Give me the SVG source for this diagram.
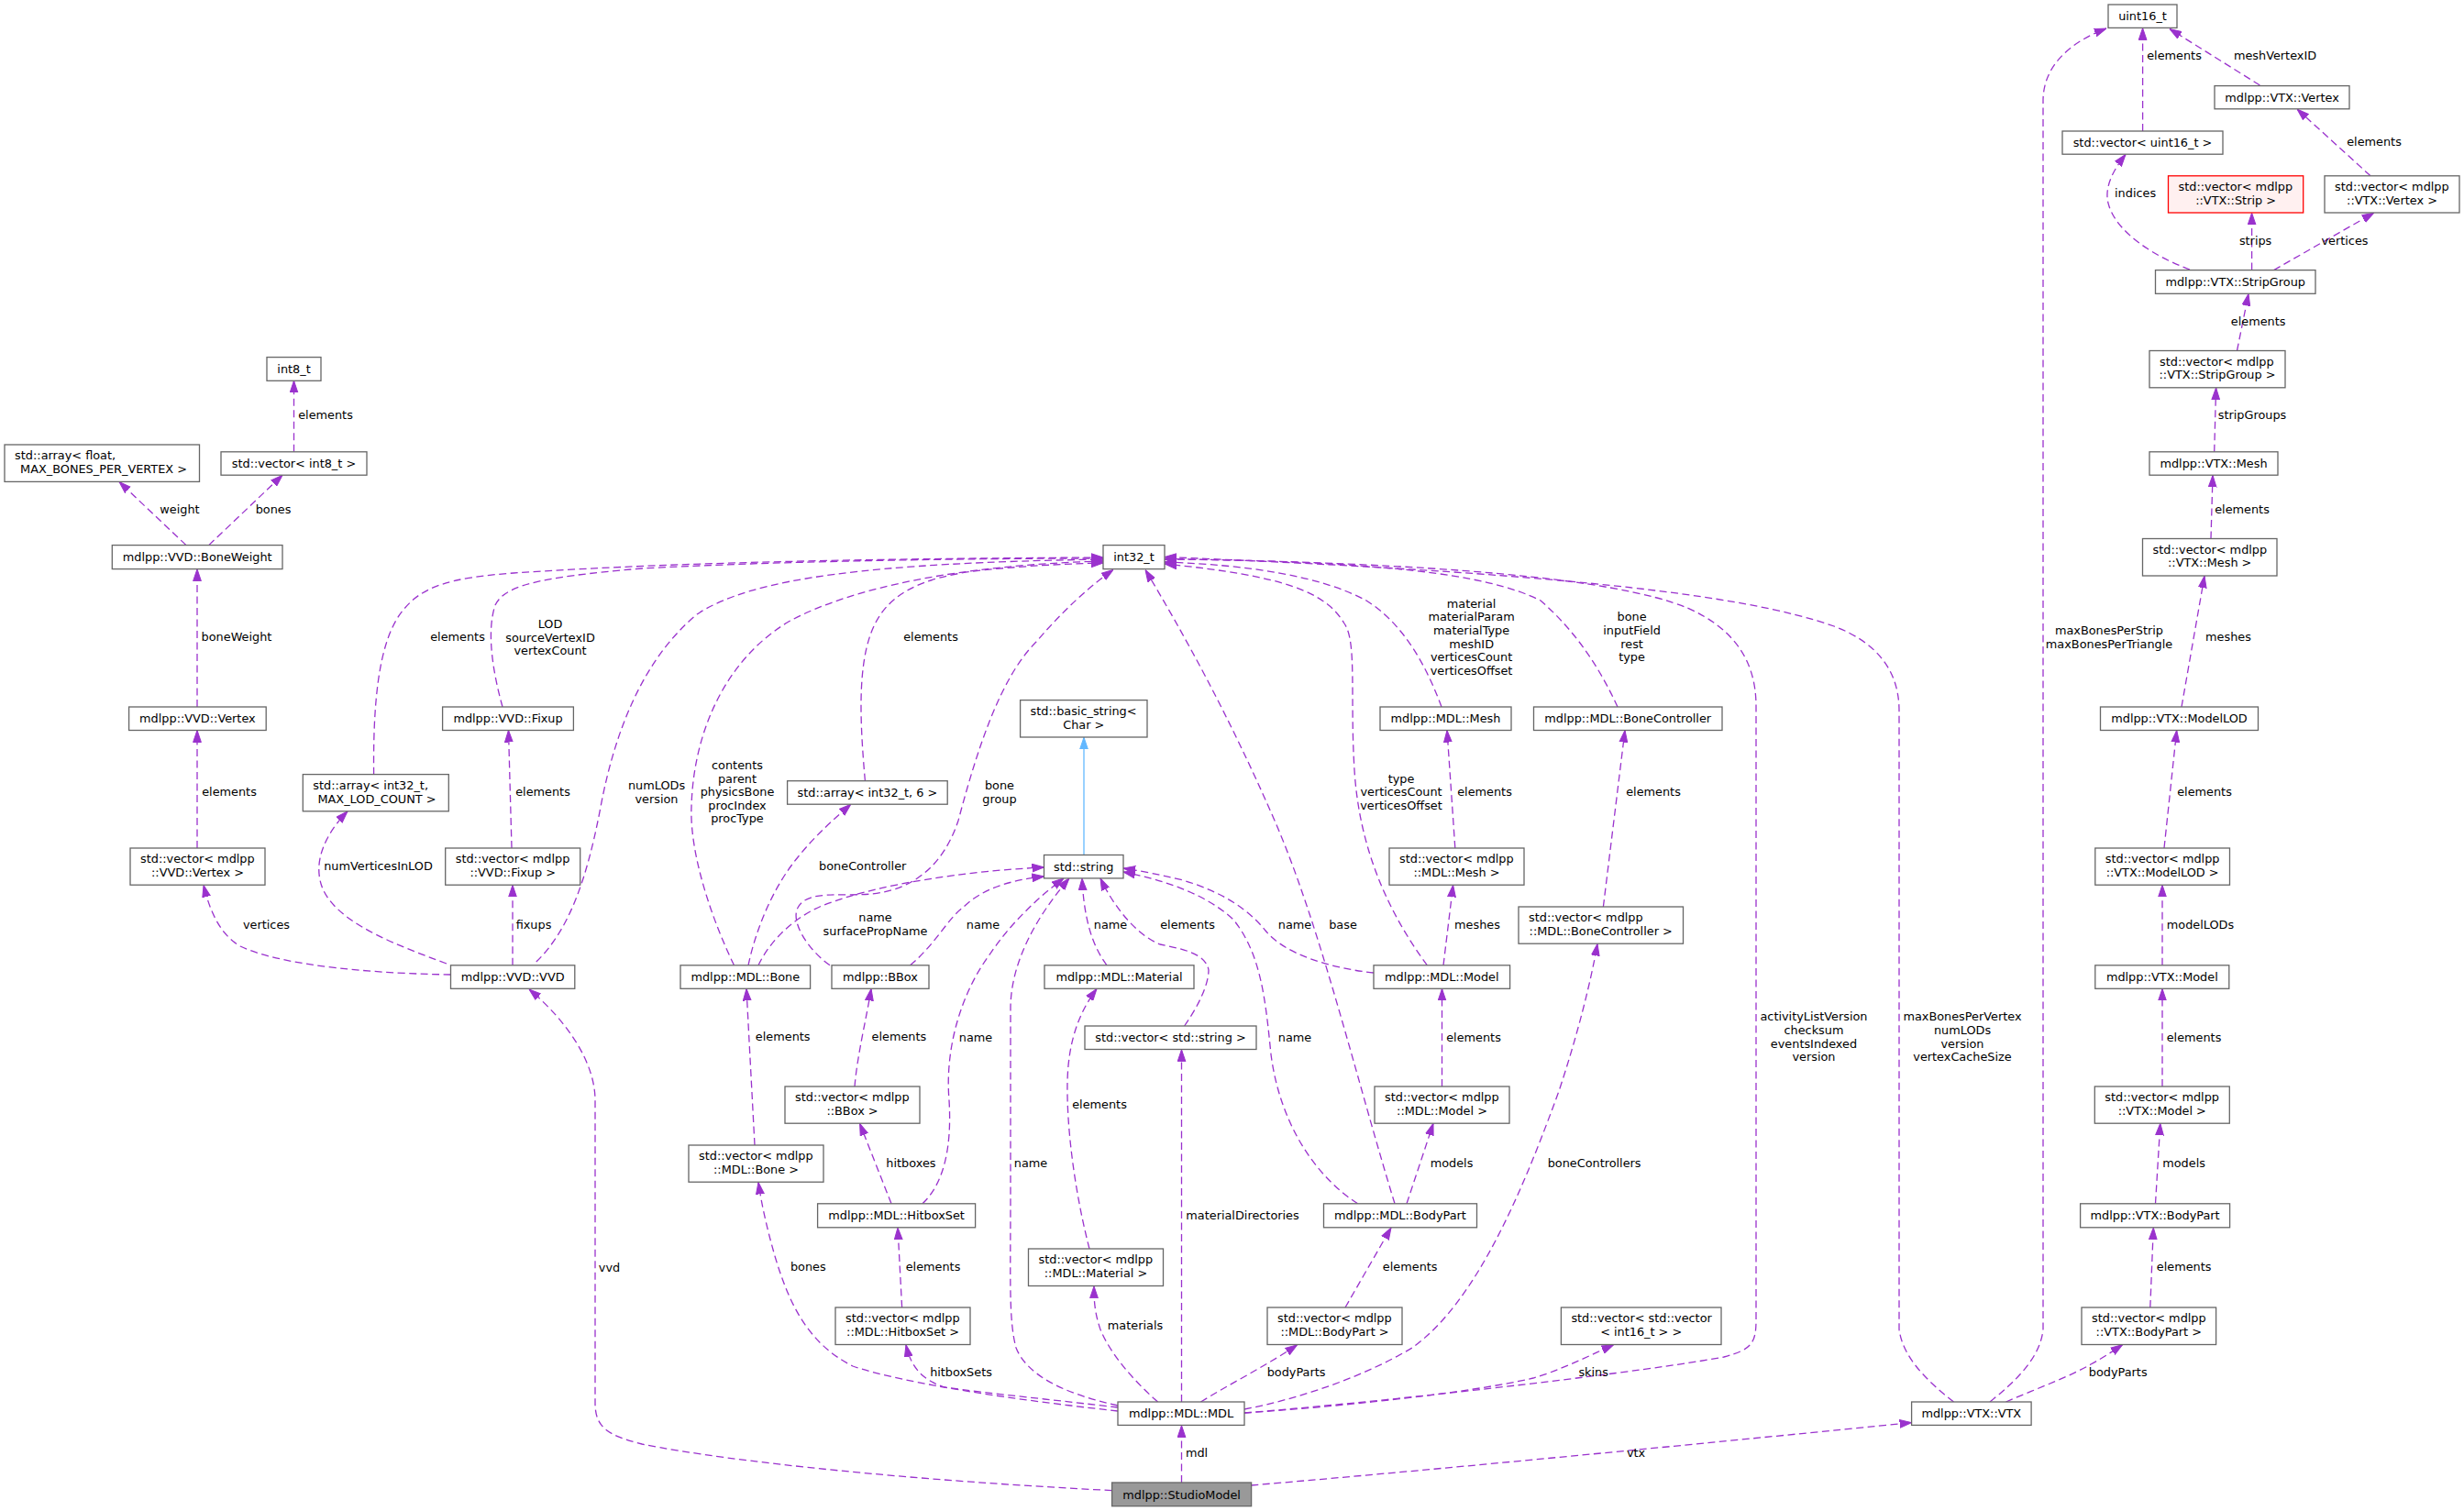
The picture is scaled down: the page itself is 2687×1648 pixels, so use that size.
<svg xmlns="http://www.w3.org/2000/svg" width="2687" height="1648" viewBox="0 0 2687 1648">
<defs>
<style>
text{font-family:"DejaVu Sans","Liberation Sans",sans-serif;font-size:12.85px;fill:#000}
.n rect{fill:#fff;stroke:#666;stroke-width:1.3}
.n text{text-anchor:middle}
.n text.l{text-anchor:start}
.e path{fill:none;stroke:#9a32cd;stroke-width:1.3;stroke-dasharray:8,4.5;marker-end:url(#ah)}
.e path.inh{stroke:#63b8ff;stroke-dasharray:none;marker-end:url(#ahb)}
.lb text{text-anchor:middle}
</style>
<marker id="ah" viewBox="0 0 13 10" refX="13" refY="5" markerWidth="13" markerHeight="10" orient="auto" markerUnits="userSpaceOnUse"><path d="M0,0.6 L13,5 L0,9.4 Z" fill="#9a32cd" stroke="#9a32cd" stroke-width="1"/></marker>
<marker id="ahb" viewBox="0 0 13 10" refX="13" refY="5" markerWidth="13" markerHeight="10" orient="auto" markerUnits="userSpaceOnUse"><path d="M0,0.6 L13,5 L0,9.4 Z" fill="#63b8ff" stroke="#63b8ff" stroke-width="1"/></marker>
</defs>
<rect x="0" y="0" width="2687" height="1648" fill="#fff"/>

<g id="edges" class="e">
<path d="M320.5,492.8 L320.5,415.3"/>
<path d="M203,594.6 L130,525.5"/>
<path d="M227.7,594.6 L308,518.2"/>
<path d="M215,771 L215,620.7"/>
<path d="M215,925 L215,796.5"/>
<path d="M491.5,1063 C420,1062 310,1055 262,1032 C238,1018 228,990 222,965.4"/>
<path d="M487,1051 C430,1030 380,1010 358,980 C340,955 345,920 379,884.8"/>
<path d="M559,1052.8 L559,965.3"/>
<path d="M558,925 L554.5,796.5"/>
<path d="M548,771 C538,735 530,690 540,660 C550,640 580,630 700,620 C850,612 1050,609 1203,609"/>
<path d="M407.6,844.6 C407,780 410,700 440,665 C460,640 490,630 560,625 C750,612 1000,609 1203,608"/>
<path d="M584.8,1049 C620,1015 640,960 655,880 C670,800 700,720 760,670 C820,630 950,614 1203,610"/>
<path d="M800.5,1052.8 C775,1000 752,930 754,880 C756,800 790,720 860,678 C930,640 1050,616 1203,612"/>
<path d="M943.4,851.7 C938,790 935,730 950,690 C965,650 1000,630 1070,622 C1120,617 1160,615 1203,614"/>
<path d="M905,1052.8 C880,1035 862,1005 870,990 C880,970 920,978 950,975 C1000,970 1030,940 1045,895 C1065,820 1090,740 1130,700 C1160,665 1190,638 1214,621.5"/>
<path d="M816,1052.8 C825,1010 845,965 870,935 C890,910 910,893 927.8,877.3"/>
<path d="M827,1052.8 C840,1025 870,995 910,983 C960,965 1050,950 1138.5,946"/>
<path d="M992.5,1052.8 C1020,1030 1035,1000 1050,990 C1070,970 1100,960 1138.5,956"/>
<path d="M1006,1312.8 C1030,1290 1038,1250 1035,1200 C1030,1140 1050,1080 1080,1040 C1100,1010 1130,980 1160,958"/>
<path d="M1219,1533 C1160,1520 1120,1500 1108,1470 C1100,1440 1102,1400 1102,1300 L1102,1100 C1102,1050 1130,1000 1166,958"/>
<path d="M1207,1052.8 C1190,1030 1182,1000 1180,958"/>
<path d="M1291.6,1119 C1305,1100 1318,1075 1318,1058 C1315,1040 1290,1035 1265,1030 C1240,1020 1215,990 1200,958"/>
<path class="inh" d="M1182,932.5 L1182,804.2"/>
<path d="M1521,1312.8 C1480,1180 1440,1010 1390,895 C1340,780 1290,690 1249,621.5"/>
<path d="M1480.6,1312.8 C1430,1280 1395,1220 1386,1150 C1380,1090 1375,1040 1345,1003 C1315,975 1270,960 1225,951"/>
<path d="M1498,1061 C1450,1056 1400,1040 1380,1015 C1360,990 1330,972 1290,960 C1265,954 1245,950 1225,947"/>
<path d="M1572,771 C1555,725 1530,680 1490,655 C1440,628 1360,616 1270,613"/>
<path d="M1764,771 C1745,730 1720,690 1680,655 C1620,625 1500,612 1270,610"/>
<path d="M1556.4,1052.8 C1510,990 1482,920 1477,840 C1472,760 1480,700 1466,680 C1445,645 1400,628 1270,615"/>
<path d="M1357,1541 C1550,1525 1800,1495 1880,1480 C1910,1472 1915,1465 1915,1440 L1915,770 C1915,720 1890,685 1840,663 C1760,630 1560,614 1270,609.5"/>
<path d="M2130.5,1529 C2100,1505 2075,1480 2071,1450 L2071,775 C2071,730 2045,700 2000,683 C1900,648 1700,625 1270,607.5"/>
<path d="M2170,1529 C2200,1505 2225,1480 2228,1450 L2228,110 C2228,70 2260,45 2297,31"/>
<path d="M2336.6,143 L2336.6,30.6"/>
<path d="M2464.4,93 L2366,31.5"/>
<path d="M2585,191.8 L2505,119"/>
<path d="M2388,294 C2350,280 2310,255 2300,225 C2293,205 2305,185 2318,168.5"/>
<path d="M2455.6,294.6 L2455.6,232.2"/>
<path d="M2479.6,294.6 L2588.7,232.2"/>
<path d="M2439.5,382.5 L2452,320.5"/>
<path d="M2414.7,492.8 L2416.6,423"/>
<path d="M2411,587.5 L2413,518.4"/>
<path d="M2379,771 L2404,628.2"/>
<path d="M2360,925 L2373.7,796.6"/>
<path d="M2358,1052.8 L2358,965.3"/>
<path d="M2358,1185 L2358,1078.4"/>
<path d="M2350.5,1312.8 L2355.8,1225.3"/>
<path d="M2344.8,1426 L2348.3,1339"/>
<path d="M2187.5,1529 C2220,1515 2260,1500 2280,1488 C2295,1480 2305,1473 2314.6,1466.6"/>
<path d="M1586.8,925 L1578,796.6"/>
<path d="M1574,1052.8 L1584.6,965.3"/>
<path d="M1748.4,989 L1772,796.6"/>
<path d="M1357,1537 C1420,1525 1490,1500 1540,1470 C1610,1420 1660,1300 1700,1190 C1720,1130 1735,1070 1742,1029.4"/>
<path d="M1572.5,1185 L1572.5,1078.4"/>
<path d="M1534,1312.8 L1563,1225.3"/>
<path d="M1467,1426 L1517,1339"/>
<path d="M1309.5,1529 C1340,1510 1380,1490 1414.6,1466.8"/>
<path d="M1357,1541 C1450,1535 1600,1520 1672,1503 C1700,1495 1730,1480 1759.6,1466.8"/>
<path d="M1288.5,1529 L1288.5,1144.8"/>
<path d="M1262.6,1529 C1235,1505 1210,1475 1200,1450 C1193,1430 1193,1415 1193,1402.8"/>
<path d="M1188,1362 C1172,1300 1163,1230 1164,1180 C1165,1130 1180,1100 1196,1078.4"/>
<path d="M1219,1535 C1160,1528 1080,1520 1030,1513 C1005,1505 993,1490 988,1466.8"/>
<path d="M983.6,1426 L979,1339"/>
<path d="M972,1312.8 L937.6,1225.4"/>
<path d="M932,1185 C935,1150 945,1110 950,1078.4"/>
<path d="M823,1249 L814,1078.4"/>
<path d="M1219,1539 C1110,1527 990,1510 930,1490 C880,1465 860,1420 845,1370 C835,1335 830,1310 827,1289.4"/>
<path d="M1288.5,1617 L1288.5,1554.7"/>
<path d="M1212.6,1625.6 C1000,1615 800,1595 700,1575 C660,1565 649,1555 649,1530 L649,1200 C649,1160 620,1115 577,1079"/>
<path d="M1364.4,1620 C1600,1600 1900,1570 2084.6,1551.6"/>
</g>

<g id="edge-labels" class="lb">
<text x="355" y="457">elements</text>
<text x="196" y="559.5">weight</text>
<text x="298" y="559.5">bones</text>
<text x="258" y="699">boneWeight</text>
<text x="250" y="867.5">elements</text>
<text x="499" y="699">elements</text>
<text x="600" y="685">LOD</text>
<text x="600" y="699.5">sourceVertexID</text>
<text x="600" y="714">vertexCount</text>
<text x="592" y="867.5">elements</text>
<text x="412.5" y="948.5">numVerticesInLOD</text>
<text x="290.5" y="1012.5">vertices</text>
<text x="582" y="1012.5">fixups</text>
<text x="716" y="861">numLODs</text>
<text x="716" y="875.5">version</text>
<text x="804" y="839">contents</text>
<text x="804" y="853.5">parent</text>
<text x="804" y="868">physicsBone</text>
<text x="804" y="882.5">procIndex</text>
<text x="804" y="897">procType</text>
<text x="1015" y="699">elements</text>
<text x="1090" y="861">bone</text>
<text x="1090" y="875.5">group</text>
<text x="940.7" y="948.5">boneController</text>
<text x="954.5" y="1005">name</text>
<text x="954.5" y="1019.8">surfacePropName</text>
<text x="1072" y="1012.5">name</text>
<text x="1211" y="1012.5">name</text>
<text x="1295" y="1012.5">elements</text>
<text x="1604.6" y="662.7">material</text>
<text x="1604.6" y="677.4">materialParam</text>
<text x="1604.6" y="692">materialType</text>
<text x="1604.6" y="706.6">meshID</text>
<text x="1604.6" y="721.3">verticesCount</text>
<text x="1604.6" y="735.9">verticesOffset</text>
<text x="1779.6" y="677.4">bone</text>
<text x="1779.6" y="692">inputField</text>
<text x="1779.6" y="706.6">rest</text>
<text x="1779.6" y="721.3">type</text>
<text x="1528" y="853.5">type</text>
<text x="1528" y="868">verticesCount</text>
<text x="1528" y="882.5">verticesOffset</text>
<text x="1619" y="868">elements</text>
<text x="1803" y="868">elements</text>
<text x="1412" y="1012.5">name</text>
<text x="1464.5" y="1012.5">base</text>
<text x="1611" y="1012.5">meshes</text>
<text x="2445" y="560">elements</text>
<text x="2300" y="692">maxBonesPerStrip</text>
<text x="2300" y="707">maxBonesPerTriangle</text>
<text x="2430" y="699">meshes</text>
<text x="2404" y="868">elements</text>
<text x="2399.5" y="1012.5">modelLODs</text>
<text x="2371" y="65">elements</text>
<text x="2481" y="65">meshVertexID</text>
<text x="2589" y="158.5">elements</text>
<text x="2328.6" y="215">indices</text>
<text x="2459.6" y="267">strips</text>
<text x="2557" y="267">vertices</text>
<text x="2462.6" y="355">elements</text>
<text x="2456" y="457">stripGroups</text>
<text x="664.5" y="1386.5">vvd</text>
<text x="853.7" y="1135">elements</text>
<text x="980.4" y="1135">elements</text>
<text x="1064" y="1135.5">name</text>
<text x="1124" y="1273">name</text>
<text x="1199" y="1209">elements</text>
<text x="993.4" y="1273">hitboxes</text>
<text x="1355" y="1329.5">materialDirectories</text>
<text x="881.3" y="1386">bones</text>
<text x="1017.5" y="1386">elements</text>
<text x="1238" y="1450">materials</text>
<text x="1048" y="1501">hitboxSets</text>
<text x="1305" y="1589">mdl</text>
<text x="1412" y="1135.5">name</text>
<text x="1607" y="1135.5">elements</text>
<text x="1978" y="1113">activityListVersion</text>
<text x="1978" y="1128">checksum</text>
<text x="1978" y="1142.5">eventsIndexed</text>
<text x="1978" y="1157">version</text>
<text x="1583" y="1273">models</text>
<text x="1738.6" y="1273">boneControllers</text>
<text x="1537.7" y="1386">elements</text>
<text x="1413.6" y="1501">bodyParts</text>
<text x="1737.7" y="1501">skins</text>
<text x="1784" y="1589">vtx</text>
<text x="2140" y="1113">maxBonesPerVertex</text>
<text x="2140" y="1128">numLODs</text>
<text x="2140" y="1142.5">version</text>
<text x="2140" y="1157">vertexCacheSize</text>
<text x="2392.5" y="1135.5">elements</text>
<text x="2381.6" y="1273">models</text>
<text x="2381.6" y="1386">elements</text>
<text x="2309.7" y="1501">bodyParts</text>
</g>

<g id="n_int8" class="n"><rect x="291" y="389.6" width="59" height="25.7"/><text x="320.5" y="407">int8_t</text></g>
<g id="n_arrfloat" class="n"><rect x="5" y="485" width="212.5" height="40.4"/><text class="l" x="16.1" y="501.2">std::array&lt; float,</text><text x="113" y="515.9">MAX_BONES_PER_VERTEX &gt;</text></g>
<g id="n_vecint8" class="n"><rect x="241" y="492.8" width="159" height="25.4"/><text x="320.5" y="510.1">std::vector&lt; int8_t &gt;</text></g>
<g id="n_boneweight" class="n"><rect x="122.3" y="594.6" width="185.7" height="26"/><text x="215.2" y="612.2">mdlpp::VVD::BoneWeight</text></g>
<g id="n_vvdvertex" class="n"><rect x="140.6" y="771" width="149.6" height="25.5"/><text x="215.4" y="788.4">mdlpp::VVD::Vertex</text></g>
<g id="n_vecvvdvertex" class="n"><rect x="142" y="925" width="147" height="40.2"/><text class="l" x="153" y="941.2">std::vector&lt; mdlpp</text><text x="215.5" y="955.9">::VVD::Vertex &gt;</text></g>
<g id="n_arrlod" class="n"><rect x="330.3" y="844.6" width="159" height="40.2"/><text class="l" x="341.3" y="860.8">std::array&lt; int32_t,</text><text x="411" y="875.5">MAX_LOD_COUNT &gt;</text></g>
<g id="n_fixup" class="n"><rect x="482.6" y="771" width="142.8" height="25.5"/><text x="554" y="788.4">mdlpp::VVD::Fixup</text></g>
<g id="n_vecfixup" class="n"><rect x="485.7" y="925" width="147" height="40.2"/><text class="l" x="496.7" y="941.2">std::vector&lt; mdlpp</text><text x="559.2" y="955.9">::VVD::Fixup &gt;</text></g>
<g id="n_vvd" class="n"><rect x="491.5" y="1052.8" width="135.3" height="25.5"/><text x="559.2" y="1070.2">mdlpp::VVD::VVD</text></g>
<g id="n_int32" class="n"><rect x="1203" y="594.6" width="67" height="26"/><text x="1236.5" y="612.2">int32_t</text></g>
<g id="n_arr6" class="n"><rect x="858.6" y="851.7" width="174.6" height="25.5"/><text x="945.9" y="869.1">std::array&lt; int32_t, 6 &gt;</text></g>
<g id="n_basicstring" class="n"><rect x="1112.6" y="763.6" width="138.4" height="40.4"/><text class="l" x="1123.6" y="779.8">std::basic_string&lt;</text><text x="1181.8" y="794.5">Char &gt;</text></g>
<g id="n_string" class="n"><rect x="1138.5" y="932.5" width="86.5" height="25.4"/><text x="1181.8" y="949.8">std::string</text></g>
<g id="n_bone" class="n"><rect x="742" y="1052.8" width="141.6" height="25.5"/><text x="812.8" y="1070.2">mdlpp::MDL::Bone</text></g>
<g id="n_bbox" class="n"><rect x="907" y="1052.8" width="106" height="25.5"/><text x="960" y="1070.2">mdlpp::BBox</text></g>
<g id="n_material" class="n"><rect x="1139" y="1052.8" width="163" height="25.5"/><text x="1220.5" y="1070.2">mdlpp::MDL::Material</text></g>
<g id="n_mesh" class="n"><rect x="1505" y="771" width="143" height="25.5"/><text x="1576.5" y="788.4">mdlpp::MDL::Mesh</text></g>
<g id="n_bc" class="n"><rect x="1672.5" y="771" width="205.5" height="25.5"/><text x="1775.2" y="788.4">mdlpp::MDL::BoneController</text></g>
<g id="n_vecmesh" class="n"><rect x="1515" y="925" width="147" height="40.2"/><text class="l" x="1526" y="941.2">std::vector&lt; mdlpp</text><text x="1588.5" y="955.9">::MDL::Mesh &gt;</text></g>
<g id="n_vecbc" class="n"><rect x="1656" y="989" width="179.5" height="40.2"/><text class="l" x="1667" y="1005.2">std::vector&lt; mdlpp</text><text x="1745.7" y="1019.9">::MDL::BoneController &gt;</text></g>
<g id="n_model" class="n"><rect x="1498" y="1052.8" width="148.6" height="25.5"/><text x="1572.3" y="1070.2">mdlpp::MDL::Model</text></g>
<g id="n_vecvtxmesh" class="n"><rect x="2336.5" y="587.5" width="146.5" height="40.5"/><text class="l" x="2347.5" y="603.7">std::vector&lt; mdlpp</text><text x="2409.7" y="618.4">::VTX::Mesh &gt;</text></g>
<g id="n_modellod" class="n"><rect x="2290.5" y="771" width="172" height="25.5"/><text x="2376.5" y="788.4">mdlpp::VTX::ModelLOD</text></g>
<g id="n_vecmodellod" class="n"><rect x="2284.8" y="925" width="146.7" height="40.2"/><text class="l" x="2295.8" y="941.2">std::vector&lt; mdlpp</text><text x="2358.1" y="955.9">::VTX::ModelLOD &gt;</text></g>
<g id="n_vtxmodel" class="n"><rect x="2284.8" y="1052.8" width="146" height="25.5"/><text x="2357.8" y="1070.2">mdlpp::VTX::Model</text></g>
<g id="n_uint16" class="n"><rect x="2299" y="5" width="75" height="25.4"/><text x="2336.5" y="22.3">uint16_t</text></g>
<g id="n_vtxvertex" class="n"><rect x="2415" y="93.6" width="147" height="25.2"/><text x="2488.5" y="110.8">mdlpp::VTX::Vertex</text></g>
<g id="n_vecuint16" class="n"><rect x="2249" y="143" width="175" height="25.2"/><text x="2336.5" y="160.2">std::vector&lt; uint16_t &gt;</text></g>
<g id="n_vecstrip" class="n"><rect x="2364.5" y="191.8" width="147.2" height="40.2" style="fill:#fff0f0;stroke:#ff0000"/><text class="l" x="2375.5" y="208">std::vector&lt; mdlpp</text><text x="2438.1" y="222.7">::VTX::Strip &gt;</text></g>
<g id="n_vecvtxvertex" class="n"><rect x="2535" y="191.8" width="147" height="40.2"/><text class="l" x="2546" y="208">std::vector&lt; mdlpp</text><text x="2608.5" y="222.7">::VTX::Vertex &gt;</text></g>
<g id="n_stripgroup" class="n"><rect x="2350.5" y="294.6" width="174.5" height="25.7"/><text x="2437.7" y="312.1">mdlpp::VTX::StripGroup</text></g>
<g id="n_vecstripgroup" class="n"><rect x="2344" y="382.5" width="148" height="40.3"/><text class="l" x="2355" y="398.7">std::vector&lt; mdlpp</text><text x="2418" y="413.4">::VTX::StripGroup &gt;</text></g>
<g id="n_vtxmesh" class="n"><rect x="2344" y="492.8" width="140" height="25.4"/><text x="2414" y="510.1">mdlpp::VTX::Mesh</text></g>
<g id="n_vecstring" class="n"><rect x="1183" y="1119" width="187" height="25.5"/><text x="1276.5" y="1136.4">std::vector&lt; std::string &gt;</text></g>
<g id="n_vecbbox" class="n"><rect x="856" y="1185" width="147" height="40.2"/><text class="l" x="867" y="1201.2">std::vector&lt; mdlpp</text><text x="929.5" y="1215.9">::BBox &gt;</text></g>
<g id="n_vecbone" class="n"><rect x="751" y="1249" width="147" height="40.2"/><text class="l" x="762" y="1265.2">std::vector&lt; mdlpp</text><text x="824.5" y="1279.9">::MDL::Bone &gt;</text></g>
<g id="n_hitboxset" class="n"><rect x="891.6" y="1312.8" width="172" height="26"/><text x="977.6" y="1330.4">mdlpp::MDL::HitboxSet</text></g>
<g id="n_vecmaterial" class="n"><rect x="1121.5" y="1362" width="147" height="40.5"/><text class="l" x="1132.5" y="1378.2">std::vector&lt; mdlpp</text><text x="1195" y="1392.9">::MDL::Material &gt;</text></g>
<g id="n_vechitboxset" class="n"><rect x="911" y="1426" width="147" height="40.5"/><text class="l" x="922" y="1442.2">std::vector&lt; mdlpp</text><text x="984.5" y="1456.9">::MDL::HitboxSet &gt;</text></g>
<g id="n_mdl" class="n"><rect x="1219" y="1529" width="138" height="25.4"/><text x="1288" y="1546.3">mdlpp::MDL::MDL</text></g>
<g id="n_studiomodel" class="n"><rect x="1212.6" y="1617" width="152" height="25.7" style="fill:#999"/><text x="1288.6" y="1634.5">mdlpp::StudioModel</text></g>
<g id="n_vecmodel" class="n"><rect x="1499" y="1185" width="147" height="40.2"/><text class="l" x="1510" y="1201.2">std::vector&lt; mdlpp</text><text x="1572.5" y="1215.9">::MDL::Model &gt;</text></g>
<g id="n_bodypart" class="n"><rect x="1443.5" y="1312.8" width="167" height="26"/><text x="1527" y="1330.4">mdlpp::MDL::BodyPart</text></g>
<g id="n_vecbodypart" class="n"><rect x="1382" y="1426" width="147" height="40.5"/><text class="l" x="1393" y="1442.2">std::vector&lt; mdlpp</text><text x="1455.5" y="1456.9">::MDL::BodyPart &gt;</text></g>
<g id="n_vecskins" class="n"><rect x="1702.4" y="1426" width="174.6" height="40.5"/><text class="l" x="1713.4" y="1442.2">std::vector&lt; std::vector</text><text x="1789.7" y="1456.9">&lt; int16_t &gt; &gt;</text></g>
<g id="n_vecvtxmodel" class="n"><rect x="2284.3" y="1185" width="147" height="40.2"/><text class="l" x="2295.3" y="1201.2">std::vector&lt; mdlpp</text><text x="2357.8" y="1215.9">::VTX::Model &gt;</text></g>
<g id="n_vtxbodypart" class="n"><rect x="2268.6" y="1312.8" width="163" height="26"/><text x="2350.1" y="1330.4">mdlpp::VTX::BodyPart</text></g>
<g id="n_vecvtxbodypart" class="n"><rect x="2270" y="1426" width="146.6" height="40.5"/><text class="l" x="2281" y="1442.2">std::vector&lt; mdlpp</text><text x="2343.3" y="1456.9">::VTX::BodyPart &gt;</text></g>
<g id="n_vtx" class="n"><rect x="2084.6" y="1529" width="130.5" height="25.4"/><text x="2149.8" y="1546.3">mdlpp::VTX::VTX</text></g>
</svg>
